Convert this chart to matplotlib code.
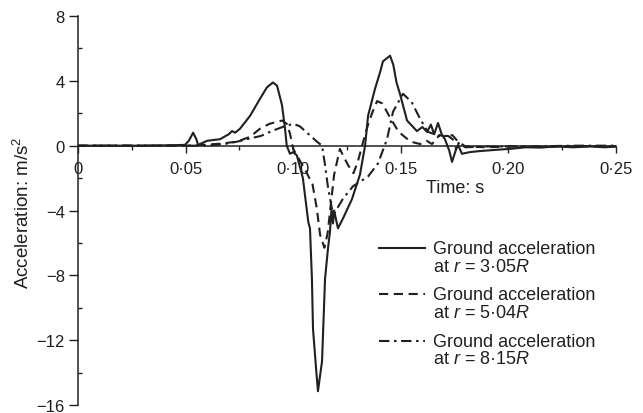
import numpy as np
import matplotlib
matplotlib.use('Agg')
import matplotlib.pyplot as plt
from matplotlib.lines import Line2D
from matplotlib.legend_handler import HandlerLine2D
from matplotlib.ticker import FuncFormatter, MultipleLocator

plt.rcParams['font.family'] = ['Liberation Sans', 'DejaVu Sans']
plt.rcParams['mathtext.fontset'] = 'custom'
plt.rcParams['mathtext.rm'] = 'Liberation Sans'
plt.rcParams['mathtext.it'] = 'Liberation Sans:italic'

INK = '#231f20'

# time (s) and acceleration (m/s^2)
t_305 = [0.000, 0.030, 0.045, 0.0497, 0.0515, 0.0535, 0.0550, 0.0558, 0.0600, 0.0660,
         0.0700, 0.0716, 0.0730, 0.0753, 0.0800, 0.0846, 0.0878, 0.0906, 0.0925, 0.0948,
         0.0962, 0.0970, 0.0985, 0.1000, 0.1017, 0.1045, 0.1070, 0.1078, 0.1087, 0.1092,
         0.1106, 0.1115, 0.1134, 0.1148, 0.1162, 0.1171, 0.1178, 0.1185, 0.1190, 0.1208,
         0.1231, 0.1273, 0.1310, 0.1334, 0.1348, 0.1380, 0.1403, 0.1417, 0.1450, 0.1465,
         0.1480, 0.1496, 0.1529, 0.1575, 0.1600, 0.1622, 0.1640, 0.1655, 0.1673, 0.1690,
         0.1705, 0.1725, 0.1738, 0.1755, 0.1766, 0.1784, 0.1820, 0.1854, 0.1900, 0.1950,
         0.2007, 0.2080, 0.2150, 0.2220, 0.2300, 0.2380, 0.2450, 0.2500]
a_305 = [0.0, 0.0, 0.03, 0.05, 0.3, 0.8, 0.4, 0.05, 0.3, 0.4,
         0.7, 0.9, 0.8, 1.05, 1.85, 2.9, 3.6, 3.9, 3.7, 2.5,
         1.05, 0.0, -0.5, -0.4, -0.6, -2.0, -4.7, -5.1, -8.2, -11.3,
         -13.7, -15.15, -13.3, -8.2, -6.3, -5.3, -3.9, -4.8, -4.0, -5.1,
         -4.5, -3.3, -1.8, 0.0, 1.85, 3.5, 4.5, 5.2, 5.55, 5.0,
         3.9, 3.2, 1.55, 0.9, 1.15, 0.85, 1.3, 0.7, 1.4, 0.7,
         0.4, -0.3, -1.0, -0.3, 0.05, -0.5, -0.4, -0.35, -0.3, -0.25,
         -0.2, -0.1, -0.12, -0.05, -0.1, -0.05, -0.1, -0.05]

t_504 = [0.000, 0.050, 0.058, 0.066, 0.074, 0.0800, 0.0846, 0.0890, 0.0948, 0.0970,
         0.0985, 0.1000, 0.1030, 0.1060, 0.1090, 0.1110, 0.1125, 0.1145, 0.1160, 0.1175,
         0.1190, 0.1217, 0.1235, 0.1255, 0.1280, 0.1300, 0.1320, 0.1350, 0.1375, 0.1390,
         0.1415, 0.1445, 0.1490, 0.1545, 0.1590, 0.1620, 0.1645, 0.1680, 0.1710, 0.1740,
         0.1766, 0.1800, 0.1900, 0.2000, 0.2150, 0.2300, 0.2500]
a_504 = [0.0, 0.0, 0.05, 0.12, 0.25, 0.55, 1.05, 1.35, 1.55, 1.35,
         0.75, -0.2, -0.9, -1.6, -2.4, -3.9, -5.5, -6.3, -5.4, -3.6,
         -1.8, -0.2, -0.7, -1.2, -1.7, -1.0, 0.0, 1.4, 2.3, 2.75,
         2.6, 1.85, 0.85, 0.25, 0.1, 0.3, 0.1, 0.65, 0.55, 0.65,
         0.25, -0.05, -0.1, -0.05, -0.08, -0.03, -0.05]

t_815 = [0.000, 0.060, 0.068, 0.0740, 0.0800, 0.0850, 0.0900, 0.0950, 0.1000, 0.1030,
         0.1060, 0.1110, 0.1134, 0.1148, 0.1162, 0.1180, 0.1190, 0.1230, 0.1278, 0.1348,
         0.1394, 0.1436, 0.1464, 0.1510, 0.1550, 0.1590, 0.1626, 0.1680, 0.1720, 0.1750,
         0.1800, 0.1900, 0.2100, 0.2300, 0.2500]
a_815 = [0.0, 0.0, 0.1, 0.25, 0.45, 0.6, 0.9, 1.15, 1.35, 1.2,
         0.85, 0.25, 0.0, -1.2, -2.6, -3.9, -4.2, -3.3, -2.5, -1.9,
         -1.1, 0.4, 2.1, 3.2, 2.7, 1.65, 0.85, 0.6, 0.6, 0.3,
         -0.1, -0.05, -0.05, 0.0, 0.0]

labels = ['Ground acceleration\nat $\\mathit{r}$ = 3\u00b705$\\mathit{R}$',
          'Ground acceleration\nat $\\mathit{r}$ = 5\u00b704$\\mathit{R}$',
          'Ground acceleration\nat $\\mathit{r}$ = 8\u00b715$\\mathit{R}$']
styles = ['-', (0, (4.4, 2.7)), (0, (5.0, 2.2, 1.2, 2.2))]


class FirstLineHandler(HandlerLine2D):
    # legend line sits beside the first text line, not the middle
    def __init__(self, shift, **kw):
        super().__init__(**kw)
        self.shift = shift

    def create_artists(self, legend, orig_handle, xdescent, ydescent, width, height,
                       fontsize, trans):
        arts = super().create_artists(legend, orig_handle, xdescent, ydescent, width,
                                      height, fontsize, trans)
        for a in arts:
            a.set_ydata(np.asarray(a.get_ydata()) + self.shift)
        return arts


fig = plt.figure(figsize=(6.43, 4.14), dpi=100)
ax = fig.add_axes([78 / 643, 1 - 406 / 414, 538 / 643, 389 / 414])

for t, a, ls, lab in zip([t_305, t_504, t_815], [a_305, a_504, a_815], styles, labels):
    ax.plot(t, a, color=INK, lw=1.5, linestyle=ls, label=lab)

ax.set_xlim(0, 0.25)
ax.set_ylim(-16, 8)
ax.spines['top'].set_visible(False)
ax.spines['right'].set_visible(False)
ax.spines['bottom'].set_position(('data', 0))
for s in ('left', 'bottom'):
    ax.spines[s].set_linewidth(1.1)
    ax.spines[s].set_color(INK)

ax.xaxis.set_major_locator(MultipleLocator(0.05))
ax.xaxis.set_minor_locator(MultipleLocator(0.025))
ax.yaxis.set_major_locator(MultipleLocator(4))
ax.yaxis.set_minor_locator(MultipleLocator(2))
ax.xaxis.set_major_formatter(FuncFormatter(
    lambda v, p: '0' if abs(v) < 1e-9 else f'{v:.2f}'.replace('.', '\u00b7')))
ax.yaxis.set_major_formatter(FuncFormatter(
    lambda v, p: f'{v:.0f}' if v >= 0 else f'\u2212{-v:.0f}'))
ax.tick_params(axis='x', which='major', direction='out', length=5, width=1.0,
               pad=6, labelsize=12, colors=INK)
ax.tick_params(axis='x', which='minor', direction='out', length=3, width=1.0, colors=INK)
ax.tick_params(axis='y', which='major', direction='out', length=6.5, width=1.0,
               pad=3, labelsize=12, colors=INK)
ax.tick_params(axis='y', which='minor', direction='in', length=3.2, width=1.0, colors=INK)

ax.set_xlabel('Time: s', fontsize=13, color=INK)
ax.xaxis.set_label_coords(0.7007, 0.582)
ax.set_ylabel('Acceleration: m/s$^2$', fontsize=13.5, color=INK)
ax.yaxis.set_label_coords(-0.0836, 0.497)

ax.legend(loc='upper left', bbox_to_anchor=(379 / 643, 1 - 241 / 414),
          bbox_transform=fig.transFigure, frameon=False, fontsize=13,
          handlelength=2.55, handletextpad=0.45, labelspacing=0.65,
          borderpad=0, borderaxespad=0,
          handler_map={Line2D: FirstLineHandler(6.8)})
for txt in ax.get_legend().get_texts():
    txt.set_linespacing(1.05)
    txt.set_color(INK)

fig.savefig('out.png', dpi=100)
